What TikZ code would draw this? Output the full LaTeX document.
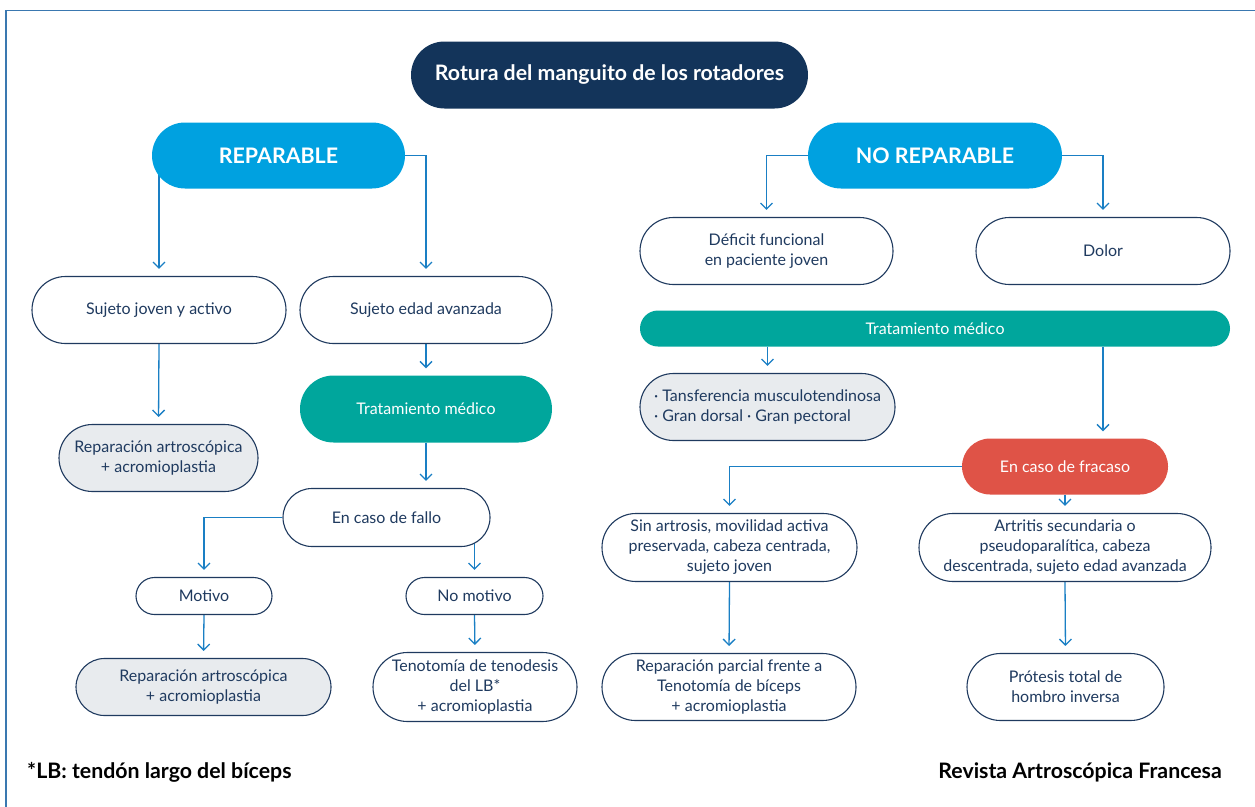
\documentclass[tikz,border=0pt]{standalone}
\usepackage{fontspec}
\setmainfont{Lato}
\usetikzlibrary{arrows.meta,backgrounds}
\definecolor{navy}{HTML}{13345A}
\definecolor{bluefill}{HTML}{00A1E0}
\definecolor{tealfill}{HTML}{00A69C}
\definecolor{redfill}{HTML}{DF5347}
\definecolor{grayfill}{HTML}{E8EBEE}
\definecolor{bordc}{HTML}{1F3A5F}
\definecolor{connc}{HTML}{1A7FC4}
\definecolor{framec}{HTML}{3A78B0}
\tikzset{
  base/.style={inner sep=0pt, align=center, font=\fontsize{16}{20}\selectfont},
  wbox/.style={base, draw=bordc, line width=1.1pt, fill=white, text=bordc},
  gbox/.style={base, draw=bordc, line width=1.1pt, fill=grayfill, text=bordc},
  tbox/.style={base, fill=tealfill, text=white},
  conn/.style={draw=connc, line width=1.3pt, shorten >=7pt, -{Straight Barb[length=6pt,width=12pt,line width=1.3pt]}},
}
\begin{document}
\begin{tikzpicture}[x=1pt,y=-1pt]
\useasboundingbox (0,0) rectangle (1255,806);
\draw[framec, line width=1.3pt] (6,812) -- (6,10.5) -- (1262,10.5);

% title
\node[base, fill=navy, text=white, minimum width=397, minimum height=67, rounded corners=33.5,
      font=\bfseries\fontsize{21.3}{24}\selectfont] (title) at (609.5,75) {Rotura del manguito de los rotadores};

\node[base, fill=bluefill, text=white, minimum width=253, minimum height=66, rounded corners=33,
      font=\bfseries\fontsize{21.4}{24}\selectfont] (rep) at (278.5,155.5) {REPARABLE};
\node[base, fill=bluefill, text=white, minimum width=254, minimum height=66, rounded corners=33,
      font=\bfseries\fontsize{21.4}{24}\selectfont] (norep) at (935,155.5) {NO REPARABLE};

% left branch
\node[wbox, minimum width=254, minimum height=67, rounded corners=33.5] (sjoven) at (159,310) {Sujeto joven y activo};
\node[wbox, minimum width=252, minimum height=67, rounded corners=33.5] (sedad) at (426,310) {Sujeto edad avanzada};
\node[gbox, minimum width=199, minimum height=67, rounded corners=33.5] (repA) at (158.5,458) {Reparación artroscópica\\+ acromioplastia};
\node[tbox, minimum width=252, minimum height=67, rounded corners=33.5] (tratL) at (426,409) {Tratamiento médico};
\node[wbox, minimum width=207, minimum height=58, rounded corners=29] (fallo) at (386.5,517.5) {En caso de fallo};
\node[wbox, minimum width=136, minimum height=37, rounded corners=18.5] (motivo) at (204,596) {Motivo};
\node[wbox, minimum width=137, minimum height=37, rounded corners=18.5] (nomot) at (474.5,596) {No motivo};
\node[gbox, minimum width=255, minimum height=57, rounded corners=28.5] (repB) at (203.5,687) {Reparación artroscópica\\+ acromioplastia};
\node[wbox, minimum width=204, minimum height=69, rounded corners=34.5] (tenot) at (475,687) {Tenotomía de tenodesis\\del LB*\\+ acromioplastia};

% right branch
\node[wbox, minimum width=253, minimum height=67, rounded corners=33.5] (deficit) at (766.5,251) {Déficit funcional\\en paciente joven};
\node[wbox, minimum width=254, minimum height=67, rounded corners=33.5] (dolor) at (1103,251) {Dolor};
\node[tbox, minimum width=590, minimum height=36, rounded corners=18] (tratR) at (935,328.5) {Tratamiento médico};
\node[gbox, minimum width=255, minimum height=67, rounded corners=33.5, align=left] (tans) at (767.5,407) {· Tansferencia musculotendinosa\\· Gran dorsal · Gran pectoral};
\node[base, fill=redfill, text=white, minimum width=206, minimum height=56, rounded corners=28] (fracaso) at (1065,466.5) {En caso de fracaso};
\node[wbox, minimum width=255, minimum height=68, rounded corners=34] (sinart) at (729.5,547.5) {Sin artrosis, movilidad activa\\preservada, cabeza centrada,\\sujeto joven};
\node[wbox, minimum width=292, minimum height=68, rounded corners=34] (artritis) at (1065,547.5) {Artritis secundaria o\\pseudoparalítica, cabeza\\descentrada, sujeto edad avanzada};
\node[wbox, minimum width=254, minimum height=67, rounded corners=33.5] (repparc) at (729,687) {Reparación parcial frente a\\Tenotomía de bíceps\\+ acromioplastia};
\node[wbox, minimum width=197, minimum height=67, rounded corners=33.5] (protesis) at (1065.5,687) {Prótesis total de\\hombro inversa};

% footer
\node[anchor=west, inner sep=0pt, font=\bfseries\fontsize{21.3}{24}\selectfont] (lb) at (27,772) {*LB: tendón largo del bíceps};
\node[anchor=east, inner sep=0pt, font=\bfseries\fontsize{21.3}{24}\selectfont] (rev) at (1222,772) {Revista Artroscópica Francesa};

\begin{scope}[on background layer]
\draw[conn] (rep.west -| sjoven.north) -- (sjoven.north);
\draw[conn] (rep.east) -| (sedad.north);
\draw[conn] (sjoven.south) -- (repA.north);
\draw[conn] (sedad.south) -- (tratL.north);
\draw[conn] (tratL.south) -- (tratL.south |- fallo.north);
\draw[conn] (fallo.west) -| (motivo.north);
\draw[conn] (nomot.north |- fallo.center) -- (nomot.north);
\draw[conn] (motivo.south) -- (repB.north);
\draw[conn] (nomot.south) -- (tenot.north);

\draw[conn] (norep.west) -| (deficit.north);
\draw[conn] (norep.east) -| (dolor.north);
\draw[conn] (tratR.south -| tans.north) -- (tans.north);
\draw[conn] (dolor.north |- tratR.south) -- (dolor.north |- fracaso.north);
\draw[conn] (fracaso.west) -| (sinart.north);
\draw[conn] (fracaso.south) -- (artritis.north);
\draw[conn] (sinart.south) -- (repparc.north);
\draw[conn] (artritis.south) -- (protesis.north);
\end{scope}
\end{tikzpicture}
\end{document}
